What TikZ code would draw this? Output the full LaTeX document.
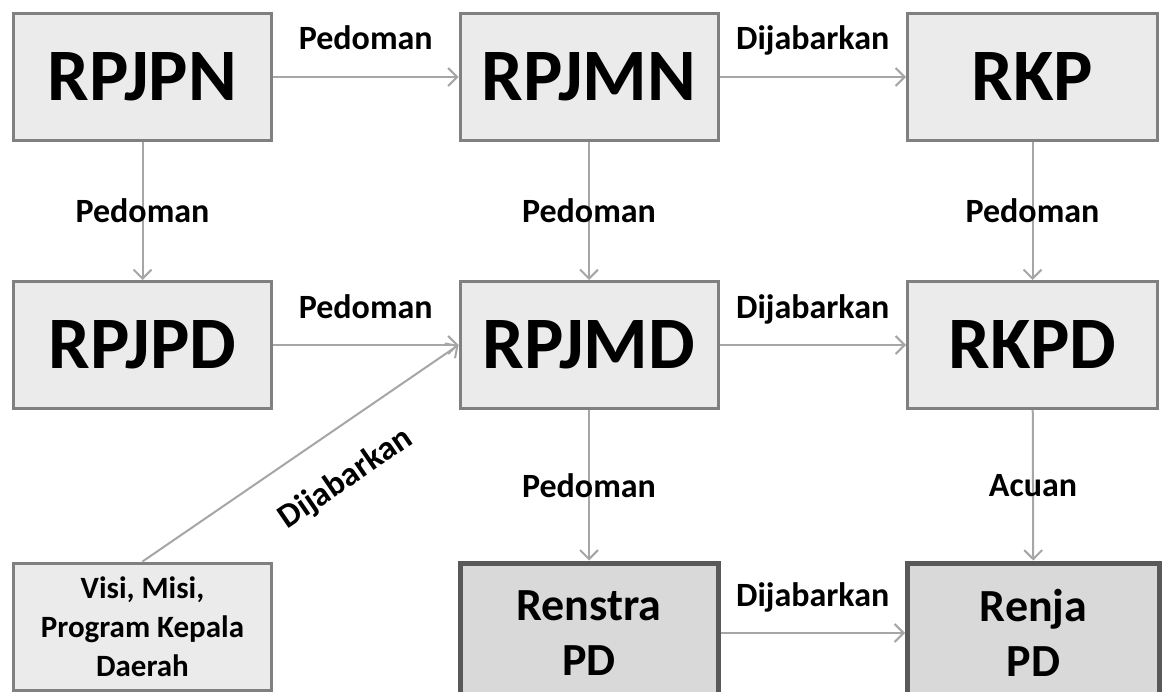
\documentclass[tikz,border=0pt]{standalone}
\usepackage{fontspec}
\setmainfont{Carlito}
\usetikzlibrary{arrows.meta,positioning}

\definecolor{boxfill}{HTML}{EBEBEB}
\definecolor{boxline}{HTML}{808080}
\definecolor{pdfill}{HTML}{D9D9D9}
\definecolor{pdline}{HTML}{595959}
\definecolor{arrline}{HTML}{A6A6A6}

\begin{document}
\begin{tikzpicture}[
  x=1pt, y=1pt,
  >={Straight Barb[length=9pt,width=18pt,line width=2pt]},
  plan/.style={
    rectangle, draw=boxline, fill=boxfill, line width=3pt,
    minimum width=258pt, minimum height=127pt, inner sep=0pt,
    font=\fontsize{74}{80}\selectfont\bfseries
  },
  visibox/.style={
    plan, align=center,
    font=\fontsize{31}{39}\selectfont\bfseries
  },
  pdbox/.style={
    plan, draw=pdline, fill=pdfill, line width=5pt,
    minimum height=140pt, align=center,
    font=\fontsize{46}{55}\selectfont\bfseries
  },
  link/.style={->, draw=arrline, line width=2pt},
  lbl/.style={font=\fontsize{34}{40}\selectfont\bfseries, inner sep=0pt, midway},
  lbltop/.style={lbl, anchor=base, yshift=27pt}
]
\useasboundingbox (0,0) rectangle (1166,-692);
\clip (0,0) rectangle (1166,-692);

% -- Baris atas --
\node[plan] (rpjpn) at ( 142.5, -77) {RPJPN};
\node[plan] (rpjmn) at ( 589,   -77) {RPJMN};
\node[plan, minimum width=250pt] (rkp) at (1032.5, -77) {RKP};

% -- Baris tengah --
\node[plan] (rpjpd) at ( 142.5, -345) {RPJPD};
\node[plan] (rpjmd) at ( 589,   -345) {RPJMD};
\node[plan, minimum width=250pt] (rkpd) at (1032.5, -345) {RKPD};

% -- Baris bawah --
\node[visibox] (visi)    at ( 142.5, -626.5) {Visi, Misi,\\Program Kepala\\Daerah};
\node[pdbox]   (renstra) at ( 589,   -633) {Renstra\\PD};
\node[pdbox, minimum width=252pt] (renja) at (1033.5, -633) {Renja\\PD};

% -- Hubungan mendatar --
\draw[link] (rpjpn)   -- node[lbltop]{Pedoman}    (rpjmn);
\draw[link] (rpjmn)   -- node[lbltop]{Dijabarkan} (rkp);
\draw[link] (rpjpd)   -- node[lbltop]{Pedoman}    (rpjmd);
\draw[link] (rpjmd)   -- node[lbltop]{Dijabarkan} (rkpd);
\draw[link] (renstra) -- node[lbltop]{Dijabarkan} (renja);

% -- Hubungan tegak --
\draw[link] (rpjpn) -- node[lbl]{Pedoman} (rpjpd);
\draw[link] (rpjmn) -- node[lbl]{Pedoman} (rpjmd);
\draw[link] (rkp)   -- node[lbl]{Pedoman} (rkpd);
\draw[link] (rpjmd) -- node[lbl]{Pedoman} (renstra);
\draw[link] (rkpd)  -- node[lbl]{Acuan}   (renja);

% -- Hubungan miring --
\draw[link] (visi.north) -- node[lbl, pos=0.56, sloped, yshift=-47pt]{Dijabarkan} (rpjmd.west);

\end{tikzpicture}
\end{document}
